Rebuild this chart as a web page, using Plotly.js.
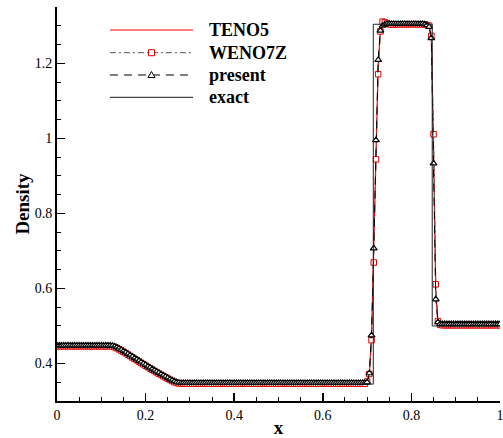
<!DOCTYPE html>
<html>
<head>
<meta charset="utf-8">
<script src="https://cdn.plot.ly/plotly-3.0.1.min.js"></script>
<style>html,body{margin:0;padding:0;background:#fff;}#chart{width:503px;height:438px;}</style>
</head>
<body>
<div id="chart"></div>
<script>
// grid points
const x = [
0,0.005,0.01,0.015,0.02,0.025,0.03,0.035,0.04,0.045,
0.05,0.055,0.06,0.065,0.07,0.075,0.08,0.085,0.09,0.095,
0.1,0.105,0.11,0.115,0.12,0.125,0.13,0.135,0.14,0.145,
0.15,0.155,0.16,0.165,0.17,0.175,0.18,0.185,0.19,0.195,
0.2,0.205,0.21,0.215,0.22,0.225,0.23,0.235,0.24,0.245,
0.25,0.255,0.26,0.265,0.27,0.275,0.28,0.285,0.29,0.295,
0.3,0.305,0.31,0.315,0.32,0.325,0.33,0.335,0.34,0.345,
0.35,0.355,0.36,0.365,0.37,0.375,0.38,0.385,0.39,0.395,
0.4,0.405,0.41,0.415,0.42,0.425,0.43,0.435,0.44,0.445,
0.45,0.455,0.46,0.465,0.47,0.475,0.48,0.485,0.49,0.495,
0.5,0.505,0.51,0.515,0.52,0.525,0.53,0.535,0.54,0.545,
0.55,0.555,0.56,0.565,0.57,0.575,0.58,0.585,0.59,0.595,
0.6,0.605,0.61,0.615,0.62,0.625,0.63,0.635,0.64,0.645,
0.65,0.655,0.66,0.665,0.67,0.675,0.68,0.685,0.69,0.695,
0.7,0.705,0.71,0.715,0.72,0.725,0.73,0.735,0.74,0.745,
0.75,0.755,0.76,0.765,0.77,0.775,0.78,0.785,0.79,0.795,
0.8,0.805,0.81,0.815,0.82,0.825,0.83,0.835,0.84,0.845,
0.85,0.855,0.86,0.865,0.87,0.875,0.88,0.885,0.89,0.895,
0.9,0.905,0.91,0.915,0.92,0.925,0.93,0.935,0.94,0.945,
0.95,0.955,0.96,0.965,0.97,0.975,0.98,0.985,0.99,0.995,
1];

const teno5 = [
0.443,0.443,0.443,0.443,0.443,0.443,0.443,0.443,0.443,0.443,
0.443,0.443,0.443,0.443,0.443,0.443,0.443,0.443,0.443,0.443,
0.443,0.443,0.443,0.443,0.4428,0.4420,0.4405,0.4380,0.4348,0.4314,
0.4280,0.4244,0.4206,0.4169,0.4131,0.4094,0.4057,0.4020,0.3983,0.3946,
0.3910,0.3873,0.3837,0.3802,0.3767,0.3733,0.3699,0.3665,0.3631,0.3598,
0.3565,0.3533,0.3502,0.3474,0.3452,0.3439,0.3433,0.3431,0.343,0.343,
0.343,0.343,0.343,0.343,0.343,0.343,0.343,0.343,0.343,0.343,
0.343,0.343,0.343,0.343,0.343,0.343,0.343,0.343,0.343,0.343,
0.343,0.343,0.343,0.343,0.343,0.343,0.343,0.343,0.343,0.343,
0.343,0.343,0.343,0.343,0.343,0.343,0.343,0.343,0.343,0.343,
0.343,0.343,0.343,0.343,0.343,0.343,0.343,0.343,0.343,0.343,
0.343,0.343,0.343,0.343,0.343,0.343,0.343,0.343,0.343,0.343,
0.343,0.343,0.343,0.343,0.343,0.343,0.343,0.343,0.343,0.343,
0.343,0.343,0.343,0.343,0.343,0.343,0.343,0.343,0.343,0.343,
0.346,0.370,0.468,0.690,0.975,1.195,1.290,1.306,1.305,1.303,
1.302,1.302,1.302,1.302,1.302,1.302,1.302,1.302,1.302,1.302,
1.302,1.302,1.302,1.302,1.302,1.302,1.301,1.300,1.297,1.270,
0.970,0.590,0.508,0.500,0.498,0.498,0.498,0.498,0.498,0.498,
0.498,0.498,0.498,0.498,0.498,0.498,0.498,0.498,0.498,0.498,
0.498,0.498,0.498,0.498,0.498,0.498,0.498,0.498,0.498,0.498,
0.498];

const weno7z = [
0.446,0.446,0.446,0.446,0.446,0.446,0.446,0.446,0.446,0.446,
0.446,0.446,0.446,0.446,0.446,0.446,0.446,0.446,0.446,0.446,
0.446,0.446,0.446,0.446,0.4458,0.4450,0.4435,0.4410,0.4378,0.4344,
0.4310,0.4274,0.4236,0.4199,0.4161,0.4124,0.4087,0.4050,0.4013,0.3976,
0.3940,0.3903,0.3867,0.3832,0.3797,0.3763,0.3729,0.3695,0.3661,0.3628,
0.3595,0.3563,0.3532,0.3504,0.3482,0.3469,0.3463,0.3461,0.346,0.346,
0.346,0.346,0.346,0.346,0.346,0.346,0.346,0.346,0.346,0.346,
0.346,0.346,0.346,0.346,0.346,0.346,0.346,0.346,0.346,0.346,
0.346,0.346,0.346,0.346,0.346,0.346,0.346,0.346,0.346,0.346,
0.346,0.346,0.346,0.346,0.346,0.346,0.346,0.346,0.346,0.346,
0.346,0.346,0.346,0.346,0.346,0.346,0.346,0.346,0.346,0.346,
0.346,0.346,0.346,0.346,0.346,0.346,0.346,0.346,0.346,0.346,
0.346,0.346,0.346,0.346,0.346,0.346,0.346,0.346,0.346,0.346,
0.346,0.346,0.346,0.346,0.346,0.346,0.346,0.346,0.346,0.346,
0.352,0.372,0.462,0.669,0.944,1.171,1.285,1.311,1.309,1.306,
1.304,1.303,1.303,1.304,1.304,1.304,1.304,1.304,1.304,1.304,
1.304,1.304,1.304,1.304,1.304,1.304,1.303,1.302,1.300,1.273,
1.011,0.611,0.513,0.503,0.502,0.502,0.502,0.502,0.502,0.502,
0.502,0.502,0.502,0.502,0.502,0.502,0.502,0.502,0.502,0.502,
0.502,0.502,0.502,0.502,0.502,0.502,0.502,0.502,0.502,0.502,
0.502];

const present = [
0.448,0.448,0.448,0.448,0.448,0.448,0.448,0.448,0.448,0.448,
0.448,0.448,0.448,0.448,0.448,0.448,0.448,0.448,0.448,0.448,
0.448,0.448,0.448,0.448,0.4478,0.4470,0.4455,0.4430,0.4398,0.4364,
0.4330,0.4294,0.4256,0.4219,0.4181,0.4144,0.4107,0.4070,0.4033,0.3996,
0.3960,0.3923,0.3887,0.3852,0.3817,0.3783,0.3749,0.3715,0.3681,0.3648,
0.3615,0.3583,0.3552,0.3524,0.3502,0.3489,0.3483,0.3481,0.348,0.348,
0.348,0.348,0.348,0.348,0.348,0.348,0.348,0.348,0.348,0.348,
0.348,0.348,0.348,0.348,0.348,0.348,0.348,0.348,0.348,0.348,
0.348,0.348,0.348,0.348,0.348,0.348,0.348,0.348,0.348,0.348,
0.348,0.348,0.348,0.348,0.348,0.348,0.348,0.348,0.348,0.348,
0.348,0.348,0.348,0.348,0.348,0.348,0.348,0.348,0.348,0.348,
0.348,0.348,0.348,0.348,0.348,0.348,0.348,0.348,0.348,0.348,
0.348,0.348,0.348,0.348,0.348,0.348,0.348,0.348,0.348,0.348,
0.348,0.348,0.348,0.348,0.348,0.348,0.348,0.348,0.348,0.348,
0.350,0.374,0.475,0.707,0.995,1.209,1.287,1.300,1.303,1.305,
1.305,1.305,1.305,1.305,1.305,1.305,1.305,1.305,1.305,1.305,
1.305,1.305,1.305,1.305,1.305,1.305,1.304,1.302,1.297,1.267,
0.933,0.571,0.510,0.505,0.505,0.505,0.505,0.505,0.505,0.505,
0.505,0.505,0.505,0.505,0.505,0.505,0.505,0.505,0.505,0.505,
0.505,0.505,0.505,0.505,0.505,0.505,0.505,0.505,0.505,0.505,
0.505];

// exact solution breakpoints
const exactX = [0, 0.131, 0.15, 0.17, 0.19, 0.21, 0.23, 0.25, 0.271, 0.714, 0.714, 0.847, 0.847, 1];
const exactY = [0.445, 0.445, 0.4303, 0.4149, 0.4002, 0.3856, 0.3718, 0.3582, 0.345, 0.345, 1.304, 1.304, 0.5, 0.5];

const seriesNames = ['TENO5', 'WENO7Z', 'present', 'exact'];
const xTickVals = [0, 0.2, 0.4, 0.6, 0.8, 1];
const xTickText = ['0', '0.2', '0.4', '0.6', '0.8', '1'];
const yTickVals = [0.4, 0.6, 0.8, 1, 1.2];
const yTickText = ['0.4', '0.6', '0.8', '1', '1.2'];

const FONT = '"Liberation Serif"';

const traces = [
  {x: x, y: teno5, mode: 'lines', name: seriesNames[0],
   line: {color: '#ff0000', width: 1.2}},
  {x: x, y: weno7z, mode: 'lines+markers', name: seriesNames[1],
   line: {color: '#555555', width: 1, dash: '6px,3px,2px,3px'},
   marker: {symbol: 'square', size: 5.5, color: '#ffffff', line: {width: 1, color: '#e00000'}}},
  {x: x, y: present, mode: 'lines+markers', name: seriesNames[2],
   line: {color: '#000000', width: 1, dash: '8px,6px'},
   marker: {symbol: 'triangle-up', size: 6, color: '#ffffff', line: {width: 1.2, color: '#000000'}}},
  {x: exactX, y: exactY, mode: 'lines', name: seriesNames[3],
   line: {color: '#222222', width: 1}}
];

// manual legend (placement in paper coordinates)
const legX0 = 0.1196, legX1 = 0.307, legXm = 0.2133, legTx = 0.338;
const legY = [0.9416, 0.884, 0.8274, 0.7708];
const shapes = [
  {type: 'line', xref: 'paper', yref: 'paper', x0: legX0, x1: legX1, y0: legY[0], y1: legY[0], line: {color: '#ff0000', width: 1.2}},
  {type: 'line', xref: 'paper', yref: 'paper', x0: legX0, x1: legX1, y0: legY[1], y1: legY[1], line: {color: '#555555', width: 1, dash: '6px,3px,2px,3px'}},
  {type: 'line', xref: 'paper', yref: 'paper', x0: legX0, x1: legX1, y0: legY[2], y1: legY[2], line: {color: '#000000', width: 1, dash: '8px,6px'}},
  {type: 'line', xref: 'paper', yref: 'paper', x0: legX0, x1: legX1, y0: legY[3], y1: legY[3], line: {color: '#444444', width: 1.2}},
  {type: 'path', xref: 'paper', yref: 'paper', xsizemode: 'pixel', ysizemode: 'pixel', xanchor: legXm, yanchor: legY[1],
   path: 'M-3,-3H3V3H-3Z', fillcolor: '#ffffff', line: {color: '#e00000', width: 1}},
  {type: 'path', xref: 'paper', yref: 'paper', xsizemode: 'pixel', ysizemode: 'pixel', xanchor: legXm, yanchor: legY[2],
   path: 'M-3.5,-2.5L3.5,-2.5L0,3.5Z', fillcolor: '#ffffff', line: {color: '#000000', width: 1}}
];
const annotations = seriesNames.map((n, i) => ({
  xref: 'paper', yref: 'paper', x: legTx, y: legY[i], xanchor: 'left', yanchor: 'middle',
  text: n, showarrow: false, font: {family: FONT, size: 18, color: '#000', weight: 'bold'}
}));

const layout = {
  width: 503, height: 438,
  margin: {l: 57, r: 3, t: 7, b: 37},
  paper_bgcolor: '#fff', plot_bgcolor: '#fff',
  showlegend: false,
  font: {family: FONT, color: '#000'},
  xaxis: {
    range: [0, 1], tickvals: xTickVals, ticktext: xTickText,
    showline: true, linewidth: 2, linecolor: '#000', mirror: false,
    showgrid: false, zeroline: false,
    ticks: 'inside', ticklen: 8, tickwidth: 1.5, tickcolor: '#000',
    ticklabeloverflow: 'allow',
    minor: {dtick: 0.05, tick0: 0, ticks: 'inside', ticklen: 4, tickwidth: 1, tickcolor: '#000', showgrid: false},
    tickfont: {family: FONT, size: 14, color: '#000'},
    title: {text: 'x', font: {family: FONT, size: 19, color: '#000', weight: 'bold'}, standoff: 2}
  },
  yaxis: {
    range: [0.3, 1.35], tickvals: yTickVals, ticktext: yTickText,
    showline: true, linewidth: 2, linecolor: '#000', mirror: false,
    showgrid: false, zeroline: false,
    ticks: 'inside', ticklen: 8, tickwidth: 1.5, tickcolor: '#000',
    minor: {dtick: 0.05, tick0: 0, ticks: 'inside', ticklen: 4, tickwidth: 1, tickcolor: '#000', showgrid: false},
    tickfont: {family: FONT, size: 14, color: '#000'},
    title: {text: 'Density', font: {family: FONT, size: 19, color: '#000', weight: 'bold'}, standoff: 0}
  },
  shapes: shapes,
  annotations: annotations
};

Plotly.newPlot('chart', traces, layout, {displayModeBar: false, staticPlot: true});
</script>
</body>
</html>
